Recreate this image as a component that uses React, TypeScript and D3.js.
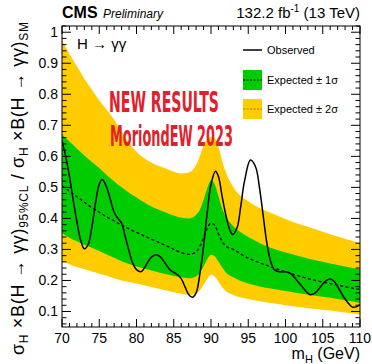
import React, { useLayoutEffect, useRef, useState } from "react";
import * as d3 from "d3";

const massBand = [70,71,72,73,74,75,76,77,78,79,80,82,84,86,87,88,88.5,89,89.5,90,90.5,91,91.5,92,93,94,95,96,98,100,102,104,106,108,110];
const exp2Up = [0.975,0.93,0.89,0.85,0.815,0.78,0.75,0.718,0.68,0.643,0.615,0.58,0.56,0.545,0.548,0.572,0.6,0.635,0.655,0.662,0.658,0.632,0.585,0.548,0.5,0.472,0.455,0.44,0.418,0.398,0.38,0.365,0.349,0.334,0.32];
const exp1Up = [0.67,0.648,0.625,0.603,0.582,0.562,0.54,0.52,0.5,0.483,0.467,0.438,0.418,0.402,0.4,0.412,0.428,0.46,0.498,0.523,0.51,0.472,0.432,0.405,0.375,0.355,0.34,0.327,0.305,0.29,0.277,0.265,0.255,0.245,0.236];
const expMedian = [0.505,0.488,0.47,0.452,0.435,0.42,0.405,0.392,0.378,0.366,0.355,0.333,0.312,0.29,0.284,0.292,0.31,0.338,0.368,0.385,0.378,0.35,0.326,0.31,0.3,0.285,0.272,0.262,0.244,0.228,0.213,0.2,0.19,0.18,0.171];
const exp1Dn = [0.352,0.338,0.326,0.315,0.305,0.295,0.284,0.273,0.262,0.253,0.245,0.232,0.22,0.21,0.207,0.213,0.225,0.245,0.268,0.283,0.278,0.26,0.242,0.226,0.21,0.198,0.19,0.184,0.174,0.166,0.158,0.151,0.144,0.136,0.127];
const exp2Dn = [0.262,0.252,0.243,0.236,0.229,0.222,0.215,0.207,0.2,0.195,0.19,0.179,0.168,0.157,0.153,0.158,0.168,0.185,0.205,0.218,0.213,0.196,0.178,0.165,0.153,0.145,0.14,0.135,0.127,0.12,0.114,0.108,0.103,0.097,0.091];

const massObs = [70,70.5,71,71.5,72,72.5,73,73.5,74,74.5,75,75.4,76,76.5,77,77.5,78,78.5,79,79.5,80,80.6,81,81.5,82,82.6,83.2,84,84.6,85.3,86,86.5,87,87.5,88,88.5,89,89.5,90,90.6,91,91.5,92,92.5,92.9,93.5,94,94.5,95.3,96,96.5,97,97.5,98,98.5,99.2,100,100.5,101,102,103.3,104,104.7,105.5,106,106.5,107,108,109,109.5,110];
const observed = [0.65,0.6,0.535,0.46,0.39,0.33,0.302,0.315,0.37,0.45,0.51,0.525,0.5,0.46,0.42,0.4,0.385,0.34,0.295,0.255,0.235,0.228,0.238,0.258,0.275,0.283,0.276,0.25,0.232,0.222,0.206,0.18,0.155,0.146,0.16,0.22,0.31,0.42,0.51,0.552,0.535,0.47,0.41,0.365,0.348,0.37,0.44,0.52,0.588,0.565,0.5,0.41,0.32,0.262,0.235,0.228,0.228,0.225,0.215,0.187,0.154,0.16,0.18,0.2,0.205,0.198,0.18,0.14,0.114,0.115,0.122];

const xTickValues = [70,75,80,85,90,95,100,105,110];
const xTickLabels = ["70","75","80","85","90","95","100","105","110"];
const yTickValues = [0.1,0.2,0.3,0.4,0.5,0.6,0.7,0.8,0.9,1.0];
const yTickLabels = ["0.1","0.2","0.3","0.4","0.5","0.6","0.7","0.8","0.9","1"];

const YELLOW = "#ffcc00";
const GREEN = "#00cc00";
const FONT = "'Liberation Sans', Arial, Helvetica, sans-serif";
const NARROW = "'Liberation Sans Narrow', 'DejaVu Sans Condensed', 'Liberation Sans', sans-serif";

export default function App() {
  const L = 62, R = 360, T = 26, B = 327;
  const x = d3.scaleLinear().domain([70, 110]).range([L, R]);
  const y = d3.scaleLinear().domain([0.05, 1.02]).range([B, T]);

  const r1 = useRef<SVGTextElement>(null);
  const r2 = useRef<SVGTextElement>(null);
  const [s1, setS1] = useState(1);
  const [s2, setS2] = useState(1);
  useLayoutEffect(() => {
    if (r1.current) { const w = r1.current.getComputedTextLength(); if (w > 0) setS1(110 / w); }
    if (r2.current) { const w = r2.current.getComputedTextLength(); if (w > 0) setS2(123 / w); }
  }, []);

  const band = (lo: number[], hi: number[]) =>
    d3.area<number>()
      .x((m) => x(m))
      .y0((_, i) => y(lo[i]))
      .y1((_, i) => y(hi[i]))
      .curve(d3.curveMonotoneX)(massBand) || "";
  const expLine = d3.line<number>().x((m) => x(m)).y((_, i) => y(expMedian[i])).curve(d3.curveMonotoneX)(massBand) || "";
  const obsLine = d3.line<number>().x((m) => x(m)).y((_, i) => y(observed[i])).curve(d3.curveCatmullRom.alpha(0.5))(massObs) || "";

  const xMinor = d3.range(70, 111, 1);
  const yMinor = d3.range(3, 52, 1).map((i) => i * 0.02).filter((v) => v <= 1.02 + 1e-9);

  return (
    <svg width={372} height={364} style={{ position: "absolute", left: 0, top: 0, background: "#fff" }} fontFamily={FONT}>
      <defs>
        <clipPath id="plotclip"><rect x={L} y={T} width={R - L} height={B - T} /></clipPath>
      </defs>
      <g clipPath="url(#plotclip)">
        <path d={band(exp2Dn, exp2Up)} fill={YELLOW} />
        <path d={band(exp1Dn, exp1Up)} fill={GREEN} />
        <path d={expLine} fill="none" stroke="#000" strokeWidth={1.3} strokeDasharray="3,2.5" />
        <path d={obsLine} fill="none" stroke="#000" strokeWidth={1.5} />
      </g>

      {/* ticks */}
      {xMinor.map((m) => {
        const major = m % 5 === 0;
        const len = major ? 8 : 4;
        return (
          <g key={"xt" + m} stroke="#000" strokeWidth={1}>
            <line x1={x(m)} x2={x(m)} y1={B} y2={B - len} />
            <line x1={x(m)} x2={x(m)} y1={T} y2={T + len} />
          </g>
        );
      })}
      {yMinor.map((v, i) => {
        const major = Math.abs(v * 10 - Math.round(v * 10)) < 1e-6;
        const len = major ? 9 : 4.5;
        return (
          <g key={"yt" + i} stroke="#000" strokeWidth={1}>
            <line x1={L} x2={L + len} y1={y(v)} y2={y(v)} />
            <line x1={R} x2={R - len} y1={y(v)} y2={y(v)} />
          </g>
        );
      })}
      <rect x={L} y={T} width={R - L} height={B - T} fill="none" stroke="#000" strokeWidth={1} />

      {xTickValues.map((m, i) => (
        <text key={"xl" + i} x={x(m)} y={343} fontSize={14} textAnchor="middle">{xTickLabels[i]}</text>
      ))}
      {yTickValues.map((v, i) => (
        <text key={"yl" + i} x={58} y={y(v) + 5} fontSize={14} textAnchor="end">{yTickLabels[i]}</text>
      ))}

      {/* axis titles */}
      <text x={360} y={359} fontSize={16} textAnchor="end">
        m<tspan fontSize={11} dy={4}>H</tspan><tspan dy={-4}> (GeV)</tspan>
      </text>
      <text transform="translate(24,22) rotate(-90)" fontSize={18} textAnchor="end" textLength={333}>
        σ<tspan fontSize={12} dy={4}>H</tspan><tspan dy={-4}> ×B(H → γγ)</tspan><tspan fontSize={12} dy={4}>95%CL</tspan><tspan dy={-4}> / σ</tspan><tspan fontSize={12} dy={4}>H</tspan><tspan dy={-4}> ×B(H → γγ)</tspan><tspan fontSize={12} dy={4}>SM</tspan>
      </text>

      {/* header */}
      <text x={62} y={18} fontSize={16} fontWeight="bold">CMS</text>
      <text x={103} y={18} fontSize={12} fontStyle="italic">Preliminary</text>
      <text x={360} y={18} fontSize={15} textAnchor="end">
        132.2 fb<tspan fontSize={10} dy={-6}>-1</tspan><tspan dy={6}> (13 TeV)</tspan>
      </text>
      <text x={77} y={49} fontSize={15}>H → γγ</text>

      {/* legend */}
      <line x1={243} x2={262} y1={50} y2={50} stroke="#000" strokeWidth={1.5} />
      <text x={267} y={54} fontSize={11}>Observed</text>
      <rect x={243} y={70} width={19} height={20} fill={GREEN} />
      <line x1={243} x2={262} y1={80} y2={80} stroke="#000" strokeWidth={1} strokeDasharray="2,1.5" />
      <text x={267} y={84} fontSize={11}>Expected ± 1σ</text>
      <rect x={243} y={99} width={19} height={20} fill={YELLOW} />
      <line x1={243} x2={262} y1={109} y2={109} stroke="#9a7a00" strokeWidth={1} strokeDasharray="2,1.5" />
      <text x={267} y={113} fontSize={11}>Expected ± 2σ</text>

      {/* watermark */}
      <text ref={r1} transform={`translate(109,112) scale(${s1},1)`} fontSize={29} fontWeight="bold" fill="#e3202a" fontFamily={NARROW}>NEW RESULTS</text>
      <text ref={r2} transform={`translate(110,146) scale(${s2},1)`} fontSize={29} fontWeight="bold" fill="#e3202a" fontFamily={NARROW}>MoriondEW 2023</text>
    </svg>
  );
}
